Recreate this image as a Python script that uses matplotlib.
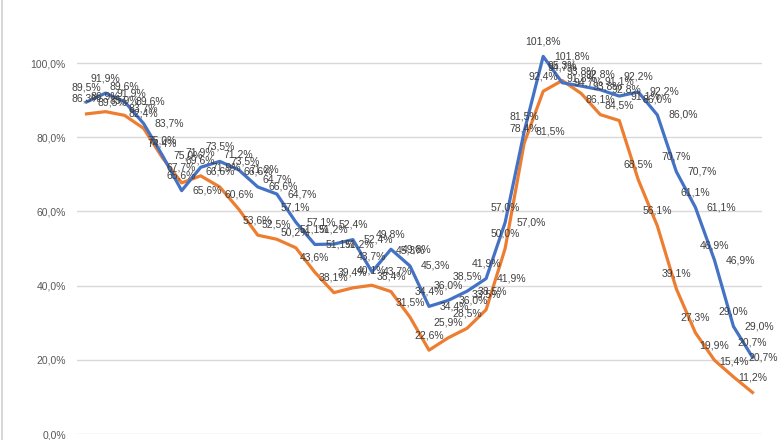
import numpy as np
import matplotlib
matplotlib.use('agg')
import matplotlib.pyplot as plt
from matplotlib.lines import Line2D

# values (percent)
blue_vals = [89.5, 91.9, 89.6, 83.7, 75.0, 65.6, 71.9, 73.5, 71.2, 66.6,
             64.7, 57.1, 51.1, 51.2, 52.4, 43.7, 49.8, 45.3, 34.4, 36.0,
             38.5, 41.9, 57.0, 81.5, 101.8, 94.7, 93.8, 92.8, 91.1, 92.2,
             86.0, 70.7, 61.1, 46.9, 29.0, 20.7]
orange_vals = [86.3, 86.9, 85.9, 82.4, 74.4, 67.7, 69.6, 66.6, 60.6, 53.6,
               52.5, 50.2, 43.6, 38.1, 39.4, 40.1, 38.4, 31.5, 22.6, 25.9,
               28.5, 33.5, 50.0, 78.4, 92.4, 95.3, 91.8, 86.1, 84.5, 68.5,
               56.1, 39.1, 27.3, 19.9, 15.4, 11.2]
y_ticks = [0, 20, 40, 60, 80, 100]

BLUE = '#4472C4'
ORANGE = '#ED7D31'
LABEL = '#404040'

plt.rcParams['font.family'] = ['Liberation Sans', 'DejaVu Sans']


def fmt(v):
    return f"{v:.1f}%".replace('.', ',')


fig = plt.figure(figsize=(7.8, 4.4), dpi=100)
ax = fig.add_axes([77 / 780, 6 / 440, 685 / 780, 434 / 440])

x = np.arange(len(blue_vals))
ax.plot(x, orange_vals, color=ORANGE, lw=2.3, solid_joinstyle='round', zorder=3)
ax.plot(x, blue_vals, color=BLUE, lw=2.3, solid_joinstyle='round', zorder=4)

# data labels: blue twice (above and right), orange above
last = len(x) - 1
for i in range(len(x)):
    ax.annotate(fmt(orange_vals[i]), (x[i], orange_vals[i]), textcoords='offset pixels',
                xytext=(0, 15), ha='center', va='center', fontsize=7.5, color=LABEL, zorder=5)
    ax.annotate(fmt(blue_vals[i]), (x[i], blue_vals[i]), textcoords='offset pixels',
                xytext=(0, 15), ha='center', va='center', fontsize=7.5, color=LABEL, zorder=5)
    # the last right-hand label is pushed back inside the chart area
    if i == last:
        ax.annotate(fmt(blue_vals[i]), (x[i], blue_vals[i]), textcoords='offset pixels',
                    xytext=(25, 0), ha='right', va='center', fontsize=7.5, color=LABEL, zorder=5)
    else:
        ax.annotate(fmt(blue_vals[i]), (x[i], blue_vals[i]), textcoords='offset pixels',
                    xytext=(11, 0), ha='left', va='center', fontsize=7.5, color=LABEL, zorder=5)

ax.set_xlim(-0.5, len(x) - 0.5)
ax.set_ylim(0, 117)
ax.set_yticks(y_ticks)
ax.set_yticklabels([fmt(t) for t in y_ticks], fontsize=7.5, color='#595959')
ax.set_xticks([])
ax.tick_params(axis='y', length=0, pad=8)
ax.grid(axis='y', color='#d9d9d9', lw=1)
ax.set_axisbelow(True)
for s in ax.spines.values():
    s.set_visible(False)

# chart border on the left
fig.add_artist(Line2D([2 / 780, 2 / 780], [0, 1], color='#d0d0d0', lw=1.2))

fig.savefig('out.png', dpi=100)
